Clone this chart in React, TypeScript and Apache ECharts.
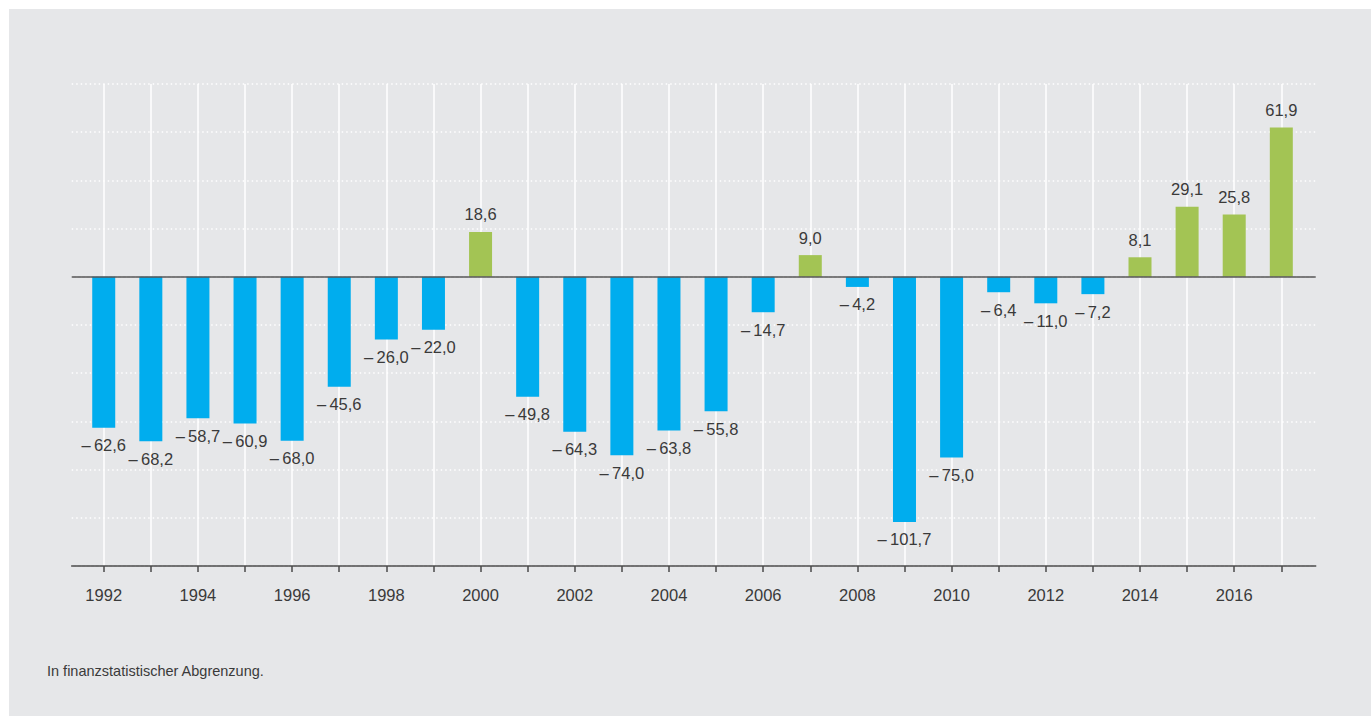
import React, { useEffect, useRef } from "react";
import * as echarts from "echarts";

const years: number[] = [
  1992, 1993, 1994, 1995, 1996, 1997, 1998, 1999, 2000, 2001, 2002, 2003, 2004,
  2005, 2006, 2007, 2008, 2009, 2010, 2011, 2012, 2013, 2014, 2015, 2016, 2017,
];
const values: number[] = [
  -62.6, -68.2, -58.7, -60.9, -68.0, -45.6, -26.0, -22.0, 18.6, -49.8, -64.3,
  -74.0, -63.8, -55.8, -14.7, 9.0, -4.2, -101.7, -75.0, -6.4, -11.0, -7.2, 8.1,
  29.1, 25.8, 61.9,
];
const labelYears: number[] = [
  1992, 1994, 1996, 1998, 2000, 2002, 2004, 2006, 2008, 2010, 2012, 2014, 2016,
];
const footnote = "In finanzstatistischer Abgrenzung.";

const BLUE = "#00adee";
const GREEN = "#a3c454";
const TEXT = "#3a3a3a";
const BG = "#e6e7e9";
const FONT = "'Liberation Sans', Arial, Helvetica, sans-serif";

function fmt(v: number): string {
  const s = Math.abs(v).toFixed(1).replace(".", ",");
  return v < 0 ? "\u2013\u2009" + s : s;
}

export default function App() {
  const ref = useRef<HTMLDivElement>(null);
  useEffect(() => {
    if (!ref.current) return;
    const chart = echarts.init(ref.current, undefined, { renderer: "svg" });
    const data = years.map((y, i) => {
      const v = values[i];
      return {
        value: [y, v],
        itemStyle: { color: v < 0 ? BLUE : GREEN },
        label: { position: v < 0 ? "bottom" : "top" },
      };
    });
    chart.setOption({
      animation: false,
      backgroundColor: BG,
      textStyle: { fontFamily: FONT },
      grid: { left: 62.7, right: 55.3, top: 75, bottom: 150 },
      xAxis: {
        type: "value",
        min: 1991.32,
        max: 2017.73,
        axisLine: {
          show: true,
          onZero: false,
          lineStyle: { color: "#4a4a4a", width: 1.5 },
        },
        axisTick: {
          show: true,
          length: 6,
          customValues: years,
          lineStyle: { color: "#4a4a4a", width: 1.5 },
        },
        axisLabel: {
          customValues: labelYears,
          color: TEXT,
          fontSize: 16.5,
          fontFamily: FONT,
          margin: 20,
          formatter: (v: number) => String(Math.round(v)),
        },
        splitLine: { show: true, lineStyle: { color: "#ffffff", width: 1.5 } },
      },
      yAxis: {
        type: "value",
        min: -120,
        max: 80,
        interval: 20,
        axisLine: { show: false },
        axisTick: { show: false },
        axisLabel: { show: false },
        splitLine: {
          show: true,
          lineStyle: { color: "#ffffff", width: 1.5, type: [1.5, 3] },
        },
      },
      series: [
        {
          type: "bar",
          barWidth: 23,
          data,
          label: {
            show: true,
            distance: 9,
            color: TEXT,
            fontSize: 16.5,
            fontFamily: FONT,
            formatter: (p: any) => fmt(p.value[1]),
          },
          markLine: {
            silent: true,
            symbol: ["none", "none"],
            label: { show: false },
            lineStyle: { color: "#555555", width: 1.5, type: "solid" },
            data: [{ yAxis: 0 }],
          },
        },
      ],
      graphic: [
        {
          type: "text",
          left: 38,
          top: 654,
          style: {
            text: footnote,
            fill: TEXT,
            font: `14.5px ${FONT}`,
          },
        },
      ],
    });
    return () => chart.dispose();
  }, []);
  return (
    <div
      ref={ref}
      style={{ position: "fixed", left: 9, top: 9, width: 1362, height: 707 }}
    />
  );
}
